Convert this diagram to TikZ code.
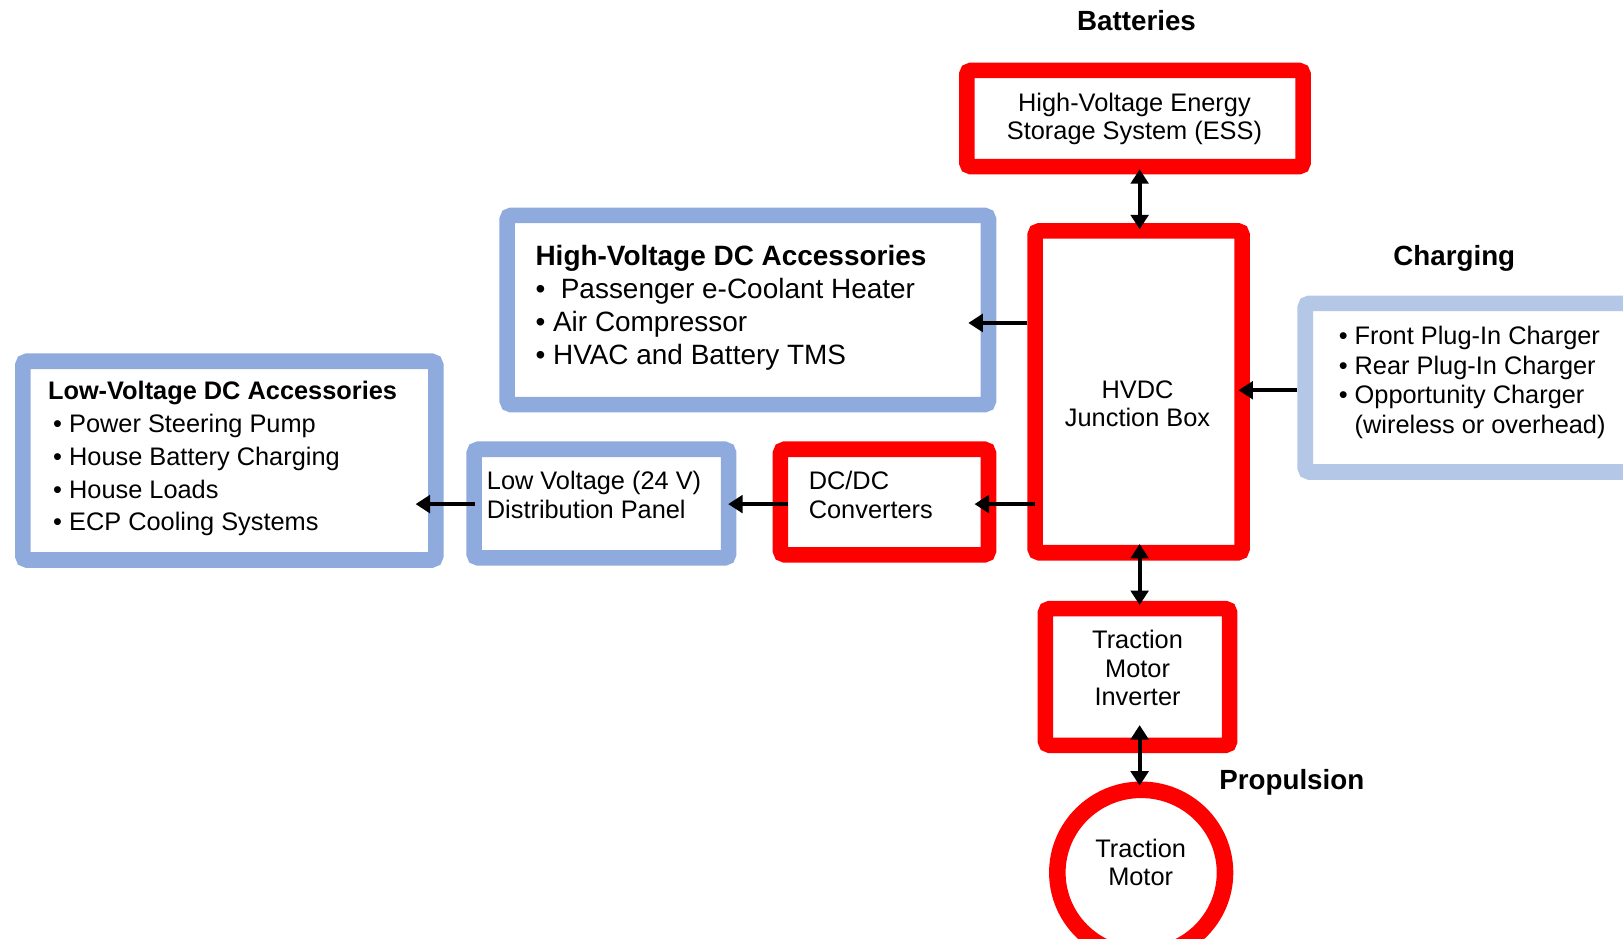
\documentclass[tikz,border=0pt]{standalone}
\usepackage{fontspec}
\setmainfont{Liberation Sans}
\usetikzlibrary{arrows.meta,shapes.geometric,calc}
\definecolor{bred}{HTML}{FF0000}
\definecolor{bblue}{HTML}{8FAADC}
\definecolor{lblue}{HTML}{B4C7E7}
\begin{document}
\begin{tikzpicture}[x=0.5pt,y=-0.5pt,
  boxbase/.style={line width=7.5pt, rounded corners=2pt, fill=white, inner sep=0pt, outer sep=3.75pt},
  redbox/.style={boxbase, draw=bred},
  bluebox/.style={boxbase, draw=bblue},
  lbluebox/.style={boxbase, draw=lblue},
  arr/.style={line width=1.9pt, -{Triangle[length=7pt,width=8.5pt]}},
  darr/.style={line width=1.9pt, {Triangle[length=7pt,width=8.5pt]}-{Triangle[length=7pt,width=8.5pt]}},
  txt/.style={font=\fontsize{12.25}{13.75}\selectfont, align=center, inner sep=0pt},
  ltxt/.style={txt, align=left, anchor=west},
  ttl/.style={font=\bfseries\fontsize{13.4}{16}\selectfont, inner sep=0pt}
]
\useasboundingbox (0,0) rectangle (1568,907);

% boxes
\node[redbox, minimum width=162.5pt, minimum height=46.5pt] (ess) at (1096.5,114.5) {};
\node[redbox, minimum width=100pt, minimum height=155.5pt] (hvdc) at (1100,378.5) {};
\node[bluebox, minimum width=232.5pt, minimum height=91.5pt] (hvacc) at (722.5,299.5) {};
\node[lbluebox, minimum width=159.5pt, minimum height=81.5pt] (chg) at (1420.5,374.5) {};
\node[redbox, minimum width=100.5pt, minimum height=51pt] (dcdc) at (854.5,485) {};
\node[bluebox, minimum width=123pt, minimum height=52.5pt] (lvp) at (581,486.5) {};
\node[bluebox, minimum width=199.5pt, minimum height=96pt] (lvacc) at (221.5,445) {};
\node[redbox, minimum width=89pt, minimum height=66pt] (tmi) at (1099,654) {};
\node[redbox, ellipse, line width=8pt, outer sep=4pt, minimum width=81pt, minimum height=80pt] (motor) at (1102.5,843) {};

% titles
\node[ttl] (batt) at (1098,20) {Batteries};
\node[ttl] (chgt) at (1405,250) {Charging};
\node[ttl] (prop) at (1248,756) {Propulsion};

% texts
\node[txt] (esst) at (1096,115) {High-Voltage Energy\\Storage System (ESS)};
\node[txt] (hvdct) at (1099,390) {HVDC\\Junction Box};
\node[txt] (tmit) at (1099,645.5) {Traction\\Motor\\Inverter};
\node[txt] (motort) at (1102,833) {Traction\\Motor};
\node[ltxt, font=\fontsize{13.5}{16}\selectfont] (hvt) at (517,297.5)
  {{\bfseries High-Voltage DC Accessories}\\ \textbullet\ \ Passenger e-Coolant Heater\\ \textbullet\ Air Compressor\\ \textbullet\ HVAC and Battery TMS};
\node[ltxt, font=\fontsize{12.25}{15.9}\selectfont] (lvt) at (46,443)
  {{\bfseries Low-Voltage DC Accessories}\\ \hspace{2.5pt}\textbullet\ Power Steering Pump\\ \hspace{2.5pt}\textbullet\ House Battery Charging\\ \hspace{2.5pt}\textbullet\ House Loads\\ \hspace{2.5pt}\textbullet\ ECP Cooling Systems};
\node[ltxt, font=\fontsize{12.25}{14.4}\selectfont] (chgtxt) at (1293,369.5)
  {\textbullet\ Front Plug-In Charger\\ \textbullet\ Rear Plug-In Charger\\ \textbullet\ Opportunity Charger\\ \phantom{\textbullet\ }(wireless or overhead)};
\node[ltxt] (dcdct) at (781,478) {DC/DC\\Converters};
\node[ltxt] (lvpt) at (470,478) {Low Voltage (24 V)\\Distribution Panel};

% helper coordinates
\coordinate (ya) at (0,312);
\coordinate (yb) at (0,487);
\coordinate (yc) at (0,377);
\coordinate (xa) at (1101,0);

% connectors
\draw[arr, shorten >=-13.5pt] (hvdc.west |- ya) -- (hvacc.east |- ya);
\draw[arr, shorten <=-3.5pt, shorten >=-10.5pt] (hvdc.west |- yb) -- (dcdc.east |- yb);
\draw[arr, shorten <=-7.5pt, shorten >=-4pt] (dcdc.west |- yb) -- (lvp.east |- yb);
\draw[arr, shorten <=-4pt, shorten >=-13.5pt] (lvp.west |- yb) -- (lvacc.east |- yb);
\draw[arr, shorten >=-5.5pt] (chg.west |- yc) -- (hvdc.east |- yc);
\draw[darr, shorten <=-2.5pt, shorten >=-3pt] (ess.south -| xa) -- (hvdc.north -| xa);
\draw[darr, shorten <=-8pt, shorten >=-2pt] (hvdc.south -| xa) -- (tmi.north -| xa);
\draw[darr, shorten <=-13.5pt, shorten >=-2pt] (tmi.south -| xa) -- (motor.north -| xa);
\end{tikzpicture}
\end{document}
